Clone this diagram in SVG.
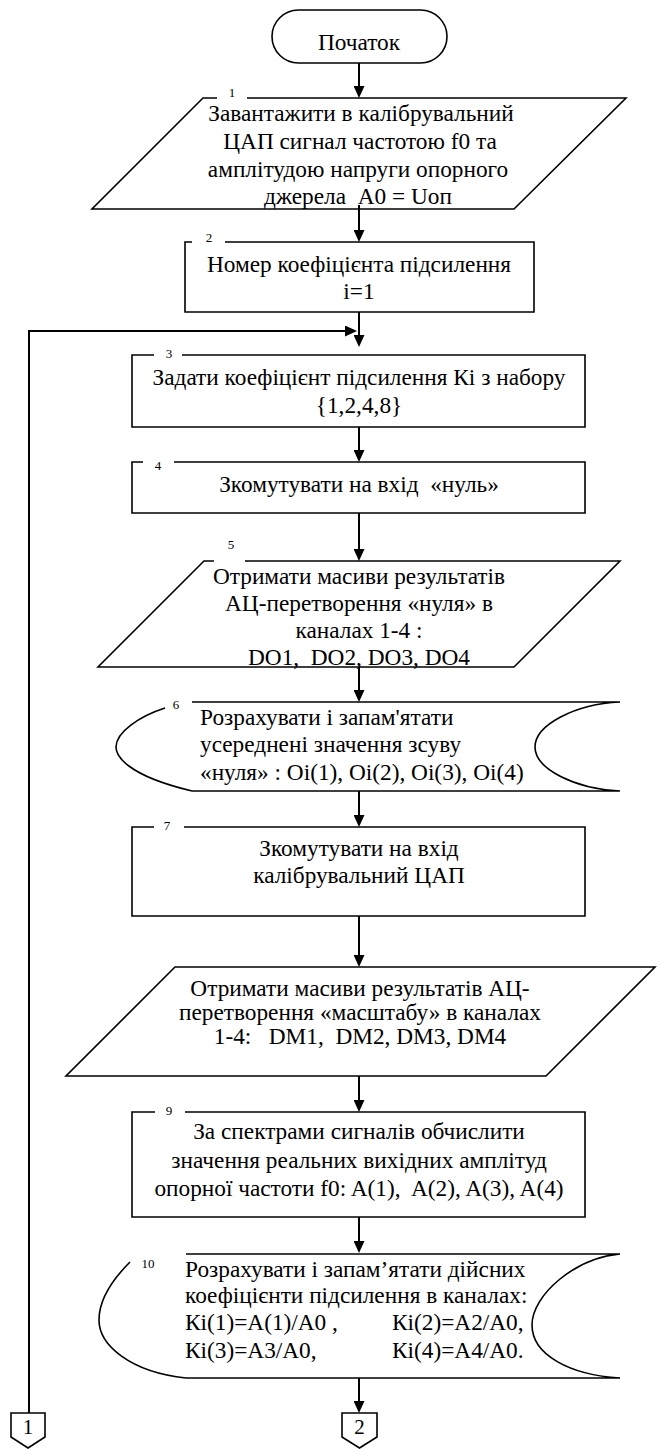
<svg xmlns="http://www.w3.org/2000/svg" width="662" height="1449" viewBox="0 0 662 1449">
<style>
.bg{fill:#fff}
.sh{fill:none;stroke:#000;stroke-width:1.6}
.ln{fill:none;stroke:#000;stroke-width:2}
.t{font-family:"Liberation Serif","Times New Roman",serif;font-size:23.3px;fill:#000;white-space:pre}
.c{text-anchor:middle}
.n{font-family:"Liberation Serif","Times New Roman",serif;font-size:13px;fill:#000;text-anchor:middle}
.k{font-family:"Liberation Serif","Times New Roman",serif;font-size:21px;fill:#000;text-anchor:middle}
</style>
<defs>
<marker id="ah" markerWidth="12" markerHeight="11" refX="10" refY="5.5" orient="auto" markerUnits="userSpaceOnUse">
<path d="M0,0 L12,5.5 L0,11 Z" fill="#000"/>
</marker>
</defs>
<rect class="bg" x="0" y="0" width="662" height="1449"/>

<g id="connectors">
<line class="ln" x1="359" y1="63" x2="359" y2="96" marker-end="url(#ah)"/>
<line class="ln" x1="359" y1="205" x2="359" y2="240" marker-end="url(#ah)"/>
<line class="ln" x1="359" y1="312" x2="359" y2="345" marker-end="url(#ah)"/>
<polyline class="ln" points="29,1413 29,331 355,331" marker-end="url(#ah)"/>
<line class="ln" x1="359" y1="427" x2="359" y2="460" marker-end="url(#ah)"/>
<line class="ln" x1="359" y1="513" x2="359" y2="559" marker-end="url(#ah)"/>
<line class="ln" x1="359" y1="667" x2="359" y2="700" marker-end="url(#ah)"/>
<line class="ln" x1="359" y1="791" x2="359" y2="825" marker-end="url(#ah)"/>
<line class="ln" x1="359" y1="916" x2="359" y2="965" marker-end="url(#ah)"/>
<line class="ln" x1="359" y1="1076" x2="359" y2="1110" marker-end="url(#ah)"/>
<line class="ln" x1="359" y1="1217" x2="359" y2="1251" marker-end="url(#ah)"/>
<line class="ln" x1="359" y1="1378" x2="359" y2="1411" marker-end="url(#ah)"/>
</g>

<g id="start">
<rect class="sh" x="272" y="10" width="175" height="53" rx="26.5"/>
<text class="t c" x="359" y="50">Початок</text>
</g>

<g id="node1">
<path class="sh" d="M217,98 H203 L92,209 H514 L626,98 H247"/>
<text class="n" x="232" y="97">1</text>
<text class="t c" x="361" y="121">Завантажити в калібрувальний</text>
<text class="t c" x="360" y="149">ЦАП сигнал частотою f0 та</text>
<text class="t c" x="358" y="177">амплітудою напруги опорного</text>
<text class="t c" x="358" y="204">джерела  A0 = Uоп</text>
</g>

<g id="node2">
<path class="sh" d="M192,242 H185 V312 H534 V242 H225"/>
<text class="n" x="209" y="242">2</text>
<text class="t c" x="359" y="272">Номер коефіцієнта підсилення</text>
<text class="t c" x="359" y="299">i=1</text>
</g>

<g id="node3">
<path class="sh" d="M154,355 H132 V427 H585 V355 H182"/>
<text class="n" x="169" y="358">3</text>
<text class="t c" x="359" y="385">Задати коефіцієнт підсилення Кі з набору</text>
<text class="t c" x="359" y="413">{1,2,4,8}</text>
</g>

<g id="node4">
<path class="sh" d="M143,462 H132 V513 H585 V462 H174"/>
<text class="n" x="158" y="470">4</text>
<text class="t c" x="359" y="492">Зкомутувати на вхід  «нуль»</text>
</g>

<g id="node5">
<path class="sh" d="M214,561 H204 L98,667 H514 L620,561 H245"/>
<text class="n" x="231" y="549">5</text>
<text class="t c" x="359" y="584">Отримати масиви результатів</text>
<text class="t c" x="359" y="611">АЦ-перетворення «нуля» в</text>
<text class="t c" x="359" y="638">каналах 1-4 :</text>
<text class="t c" x="359" y="665">DO1,  DO2, DO3, DO4</text>
</g>

<g id="node6">
<path class="sh" d="M192,702 H620 M620,702 C575,704 535,725 535,747 C535,769 575,789 620,791 H192 M165,708 C140,716 116,732 116,747 C116,755 125,775 192,791"/>
<text class="n" x="176" y="709">6</text>
<text class="t" x="200" y="725">Розрахувати і запам'ятати</text>
<text class="t" x="200" y="752">усереднені значення зсуву</text>
<text class="t" x="200" y="780">«нуля» : Oi(1), Oi(2), Oi(3), Oi(4)</text>
</g>

<g id="node7">
<path class="sh" d="M154,827 H132 V916 H585 V827 H184"/>
<text class="n" x="167" y="830">7</text>
<text class="t c" x="359" y="856">Зкомутувати на вхід</text>
<text class="t c" x="359" y="883">калібрувальний ЦАП</text>
</g>

<g id="node8">
<path class="sh" d="M175,967 H655 L546,1076 H66 Z"/>
<text class="t c" x="360" y="996">Отримати масиви результатів АЦ-</text>
<text class="t c" x="360" y="1020">перетворення «масштабу» в каналах</text>
<text class="t c" x="360" y="1044">1-4:   DM1,  DM2, DM3, DM4</text>
</g>

<g id="node9">
<path class="sh" d="M155,1112 H132 V1217 H585 V1112 H185"/>
<text class="n" x="169" y="1115">9</text>
<text class="t c" x="359" y="1139">За спектрами сигналів обчислити</text>
<text class="t c" x="359" y="1168">значення реальних вихідних амплітуд</text>
<text class="t c" x="359" y="1196">опорної частоти f0: A(1),  A(2), A(3), A(4)</text>
</g>

<g id="node10">
<path class="sh" d="M186,1254 H620 M620,1254 C575,1258 532,1295 532,1325 C532,1355 570,1375 620,1378 H186 M130,1262 C112,1280 99,1300 99,1320 C99,1345 130,1372 186,1378"/>
<text class="n" x="148" y="1268">10</text>
<text class="t" x="185" y="1277">Розрахувати і запам’ятати дійсних</text>
<text class="t" x="185" y="1303">коефіцієнти підсилення в каналах:</text>
<text class="t" x="185" y="1330">Кі(1)=A(1)/A0 ,</text>
<text class="t" x="392" y="1330">Кі(2)=A2/A0,</text>
<text class="t" x="185" y="1358">Кі(3)=A3/A0,</text>
<text class="t" x="392" y="1358">Кі(4)=A4/A0.</text>
</g>

<g id="conn1">
<path class="sh" d="M11,1413 H45 V1437 L28,1448 L11,1437 Z"/>
<text class="k" x="28" y="1434">1</text>
</g>

<g id="conn2">
<path class="sh" d="M342,1413 H377 V1437 L359.5,1448 L342,1437 Z"/>
<text class="k" x="359.5" y="1434">2</text>
</g>
</svg>
